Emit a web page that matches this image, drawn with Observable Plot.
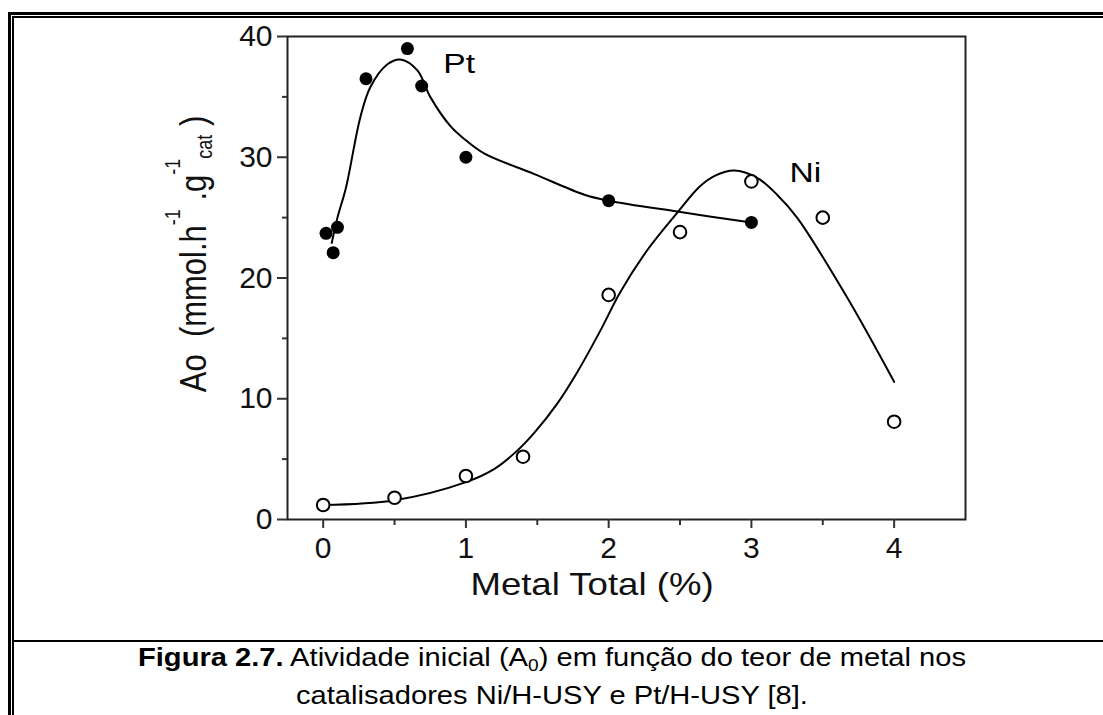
<!DOCTYPE html>
<html>
<head>
<meta charset="utf-8">
<script src="https://cdn.jsdelivr.net/npm/d3@7"></script>
<script src="https://cdn.jsdelivr.net/npm/@observablehq/plot@0.6"></script>
<style>
  html, body { margin: 0; padding: 0; background: #fff; overflow: hidden; }
  body { width: 1103px; height: 715px; position: relative; font-family: "Liberation Sans", Arial, sans-serif; }
  #outer { position: absolute; left: 8px; top: 12px; width: 2000px; height: 2000px; border-left: 3px solid #000; border-top: 3px solid #000; }
  #inner { position: absolute; left: 12px; top: 16px; width: 2000px; height: 2000px; border-left: 2px solid #000; border-top: 2px solid #000; }
  #sep { position: absolute; left: 14px; top: 640px; width: 1200px; height: 0; border-top: 2px solid #000; }
  #chart { position: absolute; left: 0; top: 0; }
  #caption { position: absolute; left: 14px; width: 1076px; top: 640px; font-size: 26px; line-height: 35px; color: #000; }
  #caption div { text-align: center; transform: scaleX(1.12); transform-origin: 50% 50%; white-space: nowrap; }
  .sub0 { font-size: 17px; position: relative; top: 5px; }
</style>
</head>
<body>
<div id="outer"></div>
<div id="inner"></div>
<div id="chart"></div>
<div id="sep"></div>
<div id="caption">
  <div><b>Figura 2.7.</b> Atividade inicial (A<span class="sub0">0</span>) em função do teor de metal nos</div>
  <div>catalisadores Ni/H-USY e Pt/H-USY [8].</div>
</div>
<script>
// Pt (filled circles)
const ptX = [0.02, 0.07, 0.1, 0.3, 0.59, 0.69, 1.0, 2.0, 3.0];
const ptY = [23.7, 22.1, 24.2, 36.5, 39.0, 35.9, 30.0, 26.4, 24.6];
// Ni (open circles)
const niX = [0, 0.5, 1.0, 1.4, 2.0, 2.5, 3.0, 3.5, 4.0];
const niY = [1.2, 1.8, 3.6, 5.2, 18.6, 23.8, 28.0, 25.0, 8.1];
// fitted curves
const ptFitX = [0.06, 0.1, 0.16, 0.26, 0.33, 0.45, 0.54, 0.66, 0.75, 0.89, 1.0, 1.13, 1.48, 1.83, 2.0, 2.48, 3.0];
const ptFitY = [22.9, 25.0, 27.5, 33.3, 35.8, 37.7, 38.1, 37.2, 35.0, 32.6, 31.4, 30.3, 28.6, 26.9, 26.4, 25.5, 24.6];
const niFitX = [0, 0.5, 1.0, 1.2, 1.35, 1.48, 1.64, 1.78, 1.94, 2.08, 2.27, 2.48, 2.64, 2.75, 2.88, 3.04, 3.18, 3.32, 3.67, 4.0];
const niFitY = [1.2, 1.6, 3.1, 4.2, 5.6, 7.2, 9.6, 12.2, 15.6, 18.8, 22.3, 25.4, 27.6, 28.5, 28.9, 28.3, 26.9, 25.0, 18.4, 11.4];
// ticks
const xTicks = [0, 1, 2, 3, 4];
const xMinor = [0.5, 1.5, 2.5, 3.5];
const yTicks = [0, 10, 20, 30, 40];
const yMinor = [5, 15, 25, 35];
// series labels (baseline positions, data units)
const seriesLabels = ["Pt", "Ni"];
const labelX = [0.845, 3.27];
const labelY = [36.9, 27.9];

const pts = ptX.map((x, i) => ({x, y: ptY[i]}));
const nis = niX.map((x, i) => ({x, y: niY[i]}));
const ptFit = ptFitX.map((x, i) => ({x, y: ptFitY[i]}));
const niFit = niFitX.map((x, i) => ({x, y: niFitY[i]}));

const W = 1103, H = 640;
const plot = Plot.plot({
  width: W, height: H,
  marginLeft: 287, marginRight: 138, marginTop: 36, marginBottom: 121,
  style: {fontFamily: "Liberation Sans, Arial, sans-serif", fontSize: "30px", color: "#111", background: "transparent"},
  x: {domain: [-0.25, 4.5]},
  y: {domain: [0, 40]},
  marks: [
    Plot.line(ptFit, {x: "x", y: "y", curve: "catmull-rom", stroke: "#000", strokeWidth: 2}),
    Plot.line(niFit, {x: "x", y: "y", curve: "catmull-rom", stroke: "#000", strokeWidth: 2}),
    Plot.dot(pts, {x: "x", y: "y", r: 6.5, fill: "#000", stroke: "none"}),
    Plot.dot(nis, {x: "x", y: "y", r: 6.3, fill: "#fff", stroke: "#000", strokeWidth: 2}),
    Plot.frame({stroke: "#222", strokeWidth: 2}),
    Plot.axisY(yTicks, {tickSize: 10, tickPadding: 5, label: null, stroke: "#333", strokeWidth: 2, fill: "#111"}),
    Plot.axisY(yMinor, {tickSize: 5, tickFormat: () => "", label: null, stroke: "#333", strokeWidth: 2}),
    Plot.axisX(xTicks, {tickSize: 9, tickPadding: 8, tickFormat: d3.format("d"), label: null, stroke: "#333", strokeWidth: 2, fill: "#111"}),
    Plot.axisX(xMinor, {tickSize: 6, tickFormat: () => "", label: null, stroke: "#333", strokeWidth: 2})
  ]
});
document.getElementById("chart").appendChild(plot);

const sx = plot.scale("x"), sy = plot.scale("y");
const svg = d3.select(plot);
// series labels, slightly widened like the reference
seriesLabels.forEach((t, i) => {
  svg.append("text")
    .attr("transform", `translate(${sx.apply(labelX[i])},${sy.apply(labelY[i])}) scale(1.2,1)`)
    .attr("text-anchor", "start")
    .attr("font-size", 28).attr("fill", "#000")
    .text(t);
});
// x axis title
svg.append("text")
  .attr("transform", "translate(592,595) scale(1.18,1)")
  .attr("text-anchor", "middle")
  .attr("font-size", 31).attr("fill", "#111")
  .text("Metal Total (%)");
// y axis title with super/subscripts
const yl = svg.append("text")
  .attr("transform", "translate(206,254) scale(1.18,1) rotate(-90)")
  .attr("text-anchor", "middle")
  .attr("font-size", 31).attr("fill", "#111");
yl.append("tspan").text("Ao  (mmol.h");
yl.append("tspan").attr("font-size", 18).attr("dy", -22).text("-1");
yl.append("tspan").attr("dy", 22).text(" .g");
yl.append("tspan").attr("font-size", 18).attr("dy", -22).text("-1");
yl.append("tspan").attr("font-size", 18).attr("dy", 27).text("cat");
yl.append("tspan").attr("dy", -5).text(" )");
</script>
</body>
</html>
